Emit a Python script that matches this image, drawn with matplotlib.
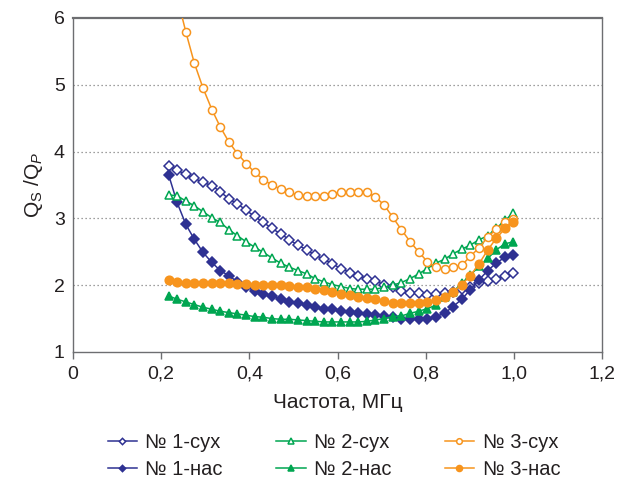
import matplotlib
matplotlib.use("Agg")
import matplotlib.pyplot as plt
import numpy as np

plt.rcParams['font.family'] = ['Liberation Sans', 'DejaVu Sans']
plt.rcParams['mathtext.fontset'] = 'custom'
plt.rcParams['mathtext.rm'] = 'Liberation Sans'
plt.rcParams['mathtext.it'] = 'Liberation Sans:italic'

freq = [0.217, 0.236, 0.256, 0.275, 0.295, 0.315, 0.334, 0.354, 0.373, 0.393,
        0.412, 0.432, 0.451, 0.471, 0.491, 0.510, 0.530, 0.549, 0.569, 0.588,
        0.608, 0.628, 0.647, 0.667, 0.686, 0.706, 0.725, 0.745, 0.765, 0.784,
        0.804, 0.823, 0.843, 0.862, 0.882, 0.901, 0.921, 0.941, 0.960, 0.980, 0.999]

dry1 = [3.79, 3.72, 3.66, 3.60, 3.54, 3.49, 3.40, 3.29, 3.22, 3.12,
        3.03, 2.94, 2.85, 2.77, 2.68, 2.60, 2.53, 2.45, 2.39, 2.32,
        2.25, 2.19, 2.14, 2.10, 2.06, 2.01, 1.98, 1.92, 1.88, 1.88,
        1.85, 1.87, 1.88, 1.90, 1.95, 1.98, 2.03, 2.06, 2.10, 2.14, 2.19]
sat1 = [3.65, 3.24, 2.91, 2.69, 2.49, 2.34, 2.22, 2.14, 2.05, 1.97,
        1.92, 1.87, 1.84, 1.79, 1.75, 1.73, 1.70, 1.68, 1.65, 1.64,
        1.61, 1.60, 1.58, 1.57, 1.55, 1.54, 1.53, 1.50, 1.49, 1.49,
        1.50, 1.53, 1.58, 1.68, 1.79, 1.93, 2.08, 2.22, 2.33, 2.42, 2.45]
dry2 = [3.35, 3.34, 3.26, 3.19, 3.10, 3.01, 2.94, 2.83, 2.74, 2.65,
        2.57, 2.49, 2.41, 2.33, 2.27, 2.22, 2.17, 2.10, 2.05, 2.01,
        1.98, 1.95, 1.94, 1.94, 1.94, 1.97, 2.00, 2.04, 2.10, 2.17,
        2.25, 2.33, 2.39, 2.47, 2.54, 2.60, 2.68, 2.74, 2.85, 2.97, 3.08]
sat2 = [1.84, 1.79, 1.75, 1.71, 1.67, 1.64, 1.61, 1.59, 1.57, 1.55,
        1.53, 1.52, 1.50, 1.49, 1.49, 1.48, 1.47, 1.46, 1.45, 1.45,
        1.45, 1.45, 1.45, 1.46, 1.48, 1.50, 1.53, 1.54, 1.58, 1.61,
        1.65, 1.70, 1.83, 1.90, 2.03, 2.15, 2.28, 2.40, 2.53, 2.62, 2.65]
dry3 = [np.nan, 6.32, 5.79, 5.33, 4.95, 4.63, 4.37, 4.14, 3.97, 3.82,
        3.69, 3.58, 3.50, 3.44, 3.39, 3.35, 3.34, 3.34, 3.34, 3.37,
        3.39, 3.40, 3.40, 3.39, 3.32, 3.20, 3.02, 2.83, 2.65, 2.50,
        2.35, 2.27, 2.24, 2.27, 2.30, 2.43, 2.56, 2.72, 2.84, 2.94, 2.99]
sat3 = [2.08, 2.05, 2.04, 2.04, 2.03, 2.03, 2.03, 2.03, 2.02, 2.02,
        2.01, 2.00, 2.00, 2.00, 1.99, 1.98, 1.97, 1.95, 1.93, 1.90,
        1.87, 1.85, 1.83, 1.81, 1.79, 1.76, 1.74, 1.73, 1.73, 1.74,
        1.75, 1.78, 1.83, 1.90, 2.01, 2.14, 2.32, 2.53, 2.70, 2.85, 2.95]

labels = ['№ 1-сух', '№ 1-нас', '№ 2-сух', '№ 2-нас', '№ 3-сух', '№ 3-нас']
xticks = [0, 0.2, 0.4, 0.6, 0.8, 1.0, 1.2]
xticklabels = ['0', '0,2', '0,4', '0,6', '0,8', '1,0', '1,2']
yticks = [1, 2, 3, 4, 5, 6]

BLUE = '#2e3192'
GREEN = '#00a651'
ORANGE = '#f7941d'
TXT = '#231f20'

fig = plt.figure(figsize=(6.28, 4.82), dpi=100)
ax = fig.add_axes([73/628, 1-352/482, (602-73)/628, (352-18)/482])

series = [
    (dry1, BLUE, 'D', 'white', 4.6),
    (sat1, BLUE, 'D', BLUE, 4.6),
    (dry2, GREEN, '^', 'white', 5.6),
    (sat2, GREEN, '^', GREEN, 5.6),
    (dry3, ORANGE, 'o', 'white', 5.8),
    (sat3, ORANGE, 'o', ORANGE, 6.2),
]
handles = []
for (vals, col, mk, fc, ms), lab in zip(series, labels):
    h, = ax.plot(freq, vals, color=col, lw=1.1, marker=mk, markersize=ms,
                 markerfacecolor=fc, markeredgecolor=col, markeredgewidth=1.1,
                 label=lab, zorder=3)
    handles.append(h)

ax.set_xlim(0, 1.2)
ax.set_ylim(1, 6)
ax.set_xticks(xticks)
ax.set_xticklabels(xticklabels)
ax.set_yticks(yticks)
ax.tick_params(axis='x', direction='out', length=5, width=1, color='#6d6e71',
               labelsize=14, labelcolor=TXT, pad=5)
ax.tick_params(axis='y', length=0, labelsize=14, labelcolor=TXT, pad=6)
for y in [2, 3, 4, 5]:
    ax.axhline(y, color='#808080', lw=0.9, ls=(0, (1, 2.2)), zorder=1)
for s in ax.spines.values():
    s.set_color('#6d6e71')
    s.set_linewidth(1.0)
ax.spines['top'].set_linewidth(1.6)

ax.set_xlabel('Частота, МГц', fontsize=15, color=TXT, labelpad=7)
ax.set_ylabel(r'$\mathregular{Q_S\ /Q}_{\mathit{P}}$', fontsize=15, color=TXT, labelpad=6)

fig.legend(handles=handles, labels=labels, loc='center', ncol=3,
           bbox_to_anchor=(334/628, 1-456/482), frameon=False,
           fontsize=14.5, handlelength=1.45, handletextpad=0.42,
           columnspacing=2.65, labelspacing=0.38, markerscale=0.7,
           labelcolor=TXT)

fig.savefig('out.png', dpi=100)
